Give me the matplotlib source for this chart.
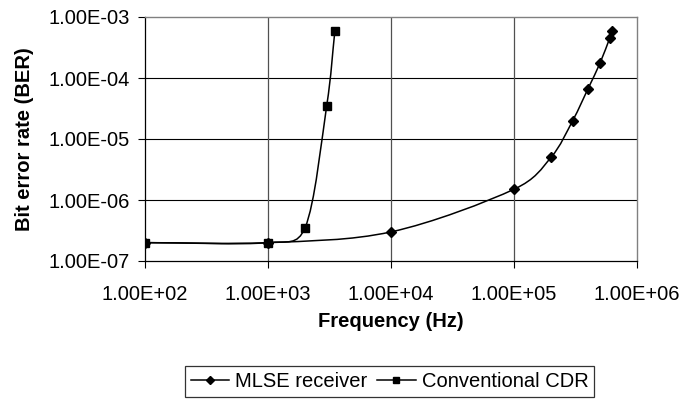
import numpy as np
import matplotlib
matplotlib.use("Agg")
import matplotlib.pyplot as plt
from matplotlib.path import Path
from matplotlib.patches import PathPatch
from matplotlib.lines import Line2D
from matplotlib.ticker import FixedLocator, FuncFormatter, NullLocator

plt.rcParams["font.family"] = ["Liberation Sans", "DejaVu Sans"]

# Data
mlse_freq = [1e2, 1e3, 1e4, 1e5, 2e5, 3e5, 4e5, 5e5, 6e5, 6.3e5]
mlse_ber = [2e-7, 2e-7, 3e-7, 1.5e-6, 5e-6, 2e-5, 6.7e-5, 1.75e-4, 4.5e-4, 5.9e-4]

cdr_freq = [1e2, 1e3, 2e3, 3e3, 3.5e3]
cdr_ber = [2e-7, 2e-7, 3.5e-7, 3.5e-5, 6e-4]

x_ticks = [1e2, 1e3, 1e4, 1e5, 1e6]
y_ticks = [1e-7, 1e-6, 1e-5, 1e-4, 1e-3]

# pixels per decade, used so the smoothing behaves like it does on screen
PX_X = 123.0
PX_Y = 61.0


def smooth_path(xs, ys):
    # Excel-like smoothed line: cubic bezier segments, control arms limited
    # to half the segment length
    p = np.column_stack([np.log10(xs) * PX_X, np.log10(ys) * PX_Y])
    n = len(p)
    verts = [p[0]]
    codes = [Path.MOVETO]
    for i in range(n - 1):
        p0 = p[i - 1] if i > 0 else p[i]
        p1 = p[i]
        p2 = p[i + 1]
        p3 = p[i + 2] if i + 2 < n else p[i + 1]
        d12 = np.hypot(*(p2 - p1))
        f = 1 / 6 if i > 0 else 1 / 3
        g = 1 / 6 if i + 2 < n else 1 / 3
        a1 = f * (p2 - p0)
        a2 = g * (p3 - p1)
        if np.hypot(*a1) > d12 / 2:
            a1 = a1 * (d12 / 2) / np.hypot(*a1)
        if np.hypot(*a2) > d12 / 2:
            a2 = a2 * (d12 / 2) / np.hypot(*a2)
        verts += [p1 + a1, p2 - a2, p2]
        codes += [Path.CURVE4] * 3
    verts = np.array(verts)
    data = np.column_stack([10 ** (verts[:, 0] / PX_X), 10 ** (verts[:, 1] / PX_Y)])
    return Path(data, codes)


fig = plt.figure(figsize=(6.84, 4.01), dpi=100)
ax = fig.add_axes([145 / 684, 1 - 261 / 401, 492 / 684, 244 / 401])

ax.set_xscale("log")
ax.set_yscale("log")
ax.set_xlim(1e2, 1e6)
ax.set_ylim(1e-7, 1e-3)

fmt = FuncFormatter(lambda v, pos: f"{v:.2E}")
ax.xaxis.set_major_locator(FixedLocator(x_ticks))
ax.yaxis.set_major_locator(FixedLocator(y_ticks))
ax.xaxis.set_minor_locator(NullLocator())
ax.yaxis.set_minor_locator(NullLocator())
ax.xaxis.set_major_formatter(fmt)
ax.yaxis.set_major_formatter(fmt)
ax.tick_params(axis="both", labelsize=14.5, direction="out", length=5,
               width=0.8, color="black")
ax.tick_params(axis="x", pad=12)
ax.tick_params(axis="y", pad=6)

for t in y_ticks[1:-1]:
    ax.axhline(t, color="black", lw=0.8, zorder=1)
for t in x_ticks[1:-1]:
    ax.axvline(t, color="#505050", lw=0.9, zorder=1)

for side in ["top", "right"]:
    ax.spines[side].set_color("#808080")
    ax.spines[side].set_linewidth(1.0)
for side in ["left", "bottom"]:
    ax.spines[side].set_color("black")
    ax.spines[side].set_linewidth(0.9)

ax.add_patch(PathPatch(smooth_path(mlse_freq, mlse_ber), fill=False,
                       edgecolor="black", lw=1.1, zorder=3))
ax.add_patch(PathPatch(smooth_path(cdr_freq, cdr_ber), fill=False,
                       edgecolor="black", lw=1.1, zorder=3))
ax.plot(mlse_freq, mlse_ber, ls="none", marker="D", ms=5, color="black", zorder=4)
ax.plot(cdr_freq, cdr_ber, ls="none", marker="s", ms=6, color="black", zorder=5)

ax.set_xlabel("Frequency (Hz)", fontsize=14.5, fontweight="bold")
ax.set_ylabel("Bit error rate (BER)", fontsize=14.5, fontweight="bold")
ax.xaxis.set_label_coords(0.5, -0.246)
ax.yaxis.set_label_coords(-0.245, 0.5)
ax.xaxis.label.set_va("center")
ax.yaxis.label.set_va("center")

handles = [
    Line2D([], [], color="black", lw=1.1, marker="D", ms=4.5),
    Line2D([], [], color="black", lw=1.1, marker="s", ms=5),
]
leg = fig.legend(handles, ["MLSE receiver", "Conventional CDR"], ncol=2,
                 loc="center", bbox_to_anchor=(389.5 / 684, 1 - 381.5 / 401),
                 fontsize=14.5, frameon=True, fancybox=False, handlelength=1.9,
                 handletextpad=0.3, columnspacing=0.5, borderpad=0.3,
                 borderaxespad=0)
leg.get_frame().set_edgecolor("black")
leg.get_frame().set_linewidth(0.9)

fig.savefig("out.png", dpi=100)
